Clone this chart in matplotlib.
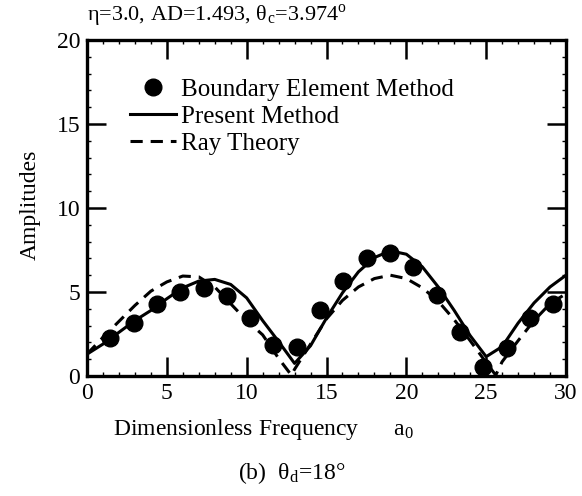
import matplotlib.pyplot as plt
from matplotlib.ticker import MultipleLocator

plt.rcParams['font.family'] = ['Liberation Serif', 'DejaVu Serif']
plt.rcParams['mathtext.fontset'] = 'stix'

# boundary element results
bem_x = [1.46, 2.92, 4.38, 5.84, 7.30, 8.76, 10.22, 11.68, 13.14, 14.60,
         16.06, 17.52, 18.98, 20.44, 21.90, 23.36, 24.82, 26.28, 27.74, 29.20]
bem_y = [2.24, 3.17, 4.29, 5.02, 5.22, 4.76, 3.45, 1.85, 1.75, 3.93,
         5.67, 7.00, 7.34, 6.47, 4.82, 2.64, 0.55, 1.65, 3.43, 4.29]

# present method
pm_x = [0, 1, 2, 3, 4, 5, 6, 7, 8, 9, 10, 11, 12, 13, 14, 15, 16, 17, 18, 19,
        20, 21, 22, 23, 24, 25, 26, 27, 28, 29, 30]
pm_y = [1.3, 1.9, 2.6, 3.3, 3.9, 4.6, 5.25, 5.65, 5.75, 5.45, 4.65, 3.3, 2.05,
        0.75, 1.8, 3.45, 4.95, 6.2, 7.05, 7.45, 7.25, 6.5, 5.3, 3.9, 2.4, 1.15,
        1.75, 3.15, 4.35, 5.3, 6.0]

# ray theory
ray_x = [0, 1, 2, 3, 4, 5, 6, 7, 8, 9, 10, 11, 12, 12.8, 13, 14, 15, 16, 17,
         18, 19, 20, 21, 22, 23, 24, 25, 25.6, 26, 27, 28, 29, 30]
ray_y = [1.3, 2.3, 3.25, 4.2, 5.05, 5.6, 5.95, 5.9, 5.3, 4.3, 3.3, 2.45, 1.05,
         0.05, 0.4, 1.9, 3.4, 4.5, 5.3, 5.8, 6.0, 5.8, 5.25, 4.45, 3.35, 2.1,
         0.8, 0.05, 0.85, 2.1, 3.3, 4.3, 4.9]

fig = plt.figure(figsize=(5.82, 4.96), dpi=100)
ax = fig.add_axes([87 / 582, 1 - 376 / 496, 479 / 582, 336 / 496])

ax.plot(bem_x, bem_y, 'o', color='black', markersize=12,
        label='Boundary Element Method')
ax.plot(pm_x, pm_y, '-', color='black', lw=2.2, label='Present Method')
ax.plot(ray_x, ray_y, '--', color='black', lw=2.2, dashes=(4, 2.6),
        label='Ray Theory')

ax.set_xlim(0, 30)
ax.set_ylim(0, 20)
ax.xaxis.set_major_locator(MultipleLocator(5))
ax.yaxis.set_major_locator(MultipleLocator(5))
ax.xaxis.set_minor_locator(MultipleLocator(1))
ax.yaxis.set_minor_locator(MultipleLocator(1))
ax.tick_params(which='major', direction='in', length=14, width=1.8,
               top=True, right=True, labelsize=17, pad=5)
ax.tick_params(which='minor', direction='in', length=3, width=1,
               top=True, right=True)
for s in ax.spines.values():
    s.set_linewidth(2.4)

ax.set_xlabel('Dimensionless Frequency      a$_\\mathregular{0}$', fontsize=17)
ax.xaxis.label.set_va('center')
ax.xaxis.set_label_coords((263 - 87) / 479, (376 - 430) / 336)
ax.set_ylabel('Amplitudes', fontsize=17)
ax.yaxis.label.set_va('center')
ax.yaxis.set_label_coords((30 - 87) / 479, (376 - 205) / 336)

ax.text(0.0, 1.035, 'η=3.0, AD=1.493, θ$_\\mathregular{c}$=3.974$^\\mathregular{o}$',
        transform=ax.transAxes, fontsize=16, ha='left', va='bottom')
fig.text(292 / 582, 1 - 473 / 496, '(b)  θ$_\\mathregular{d}$=18°',
         fontsize=17, ha='center', va='center')

ax.legend(loc='upper left', bbox_to_anchor=(0.09, 0.885), frameon=False,
          fontsize=18, handlelength=1.85, handletextpad=0.17,
          labelspacing=0.18, borderaxespad=0, borderpad=0)

fig.savefig('out.png', dpi=100)
